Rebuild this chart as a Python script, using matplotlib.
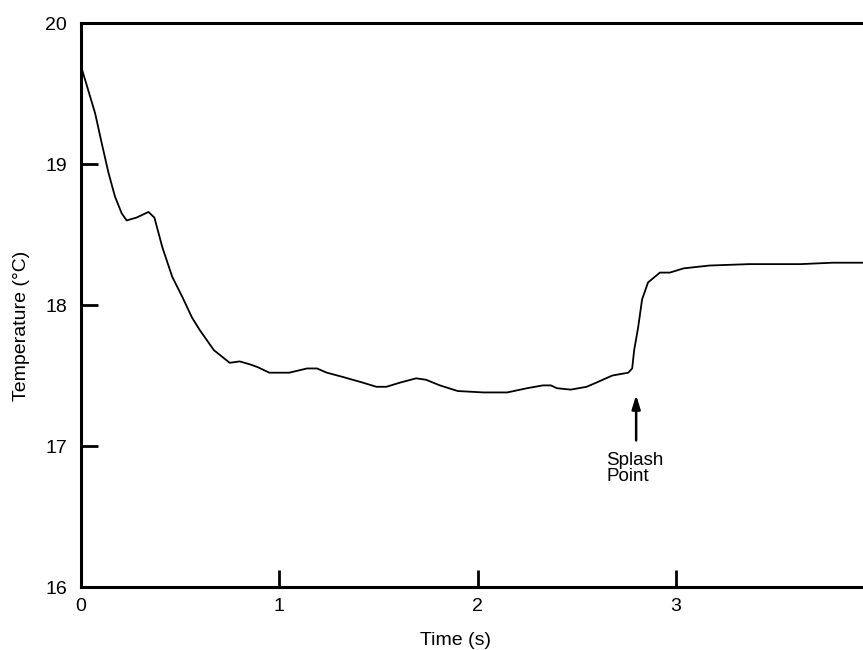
import matplotlib.pyplot as plt
import numpy as np

# values
time_s = [0.005, 0.037, 0.071, 0.104, 0.138, 0.171, 0.205, 0.23, 0.28, 0.34, 0.37, 0.41,
          0.46, 0.51, 0.56, 0.60, 0.67, 0.75, 0.80, 0.85, 0.89, 0.95, 1.05, 1.14, 1.19,
          1.24, 1.32, 1.42, 1.49, 1.54, 1.61, 1.69, 1.74, 1.81, 1.90, 2.03, 2.15, 2.25,
          2.33, 2.37, 2.40, 2.47, 2.55, 2.60, 2.68, 2.76, 2.78, 2.79, 2.81, 2.83, 2.86,
          2.92, 2.97, 3.04, 3.17, 3.37, 3.63, 3.79, 3.96, 4.0]
temp_c = [19.67, 19.52, 19.36, 19.15, 18.94, 18.77, 18.65, 18.60, 18.62, 18.66, 18.62, 18.41,
          18.20, 18.06, 17.91, 17.82, 17.68, 17.59, 17.60, 17.58, 17.56, 17.52, 17.52, 17.55, 17.55,
          17.52, 17.49, 17.45, 17.42, 17.42, 17.45, 17.48, 17.47, 17.43, 17.39, 17.38, 17.38, 17.41,
          17.43, 17.43, 17.41, 17.40, 17.42, 17.45, 17.50, 17.52, 17.55, 17.68, 17.84, 18.04, 18.16,
          18.23, 18.23, 18.26, 18.28, 18.29, 18.29, 18.30, 18.30, 18.30]

x_ticks = [0, 1, 2, 3, 4]
y_ticks = [16, 17, 18, 19, 20]

splash_t = 2.80
splash_temp = 17.38

plt.rcParams['font.family'] = ['Liberation Sans', 'DejaVu Sans']

fig = plt.figure(figsize=(8.63, 6.5), dpi=100)
# right edge of the axes runs past the figure, as in the cropped scan
ax = fig.add_axes([0.0939, 0.0969, 0.9189, 0.8677])

ax.plot(time_s, temp_c, color="k", lw=1.3, solid_joinstyle="round")

ax.set_xlim(0, 4)
ax.set_ylim(16, 20)
ax.set_xticks(x_ticks)
ax.set_yticks(y_ticks)
ax.tick_params(direction="in", length=12, width=2, labelsize=14)
ax.tick_params(axis="y", pad=10)
ax.tick_params(axis="x", pad=8)
for s in ax.spines.values():
    s.set_linewidth(2.2)

ax.set_xlabel("Time (s)", fontsize=14)
ax.xaxis.set_label_coords(0.472, -0.080)
ax.set_ylabel("Temperature (°C)", fontsize=14)
ax.yaxis.set_label_coords(-0.064, 0.463)

# splash point marker
ax.annotate("", xy=(splash_t, splash_temp), xytext=(splash_t, splash_temp - 0.36),
            arrowprops=dict(arrowstyle="-|>,head_length=0.8,head_width=0.25", color="k", lw=1.8))
ax.text(splash_t - 0.15, splash_temp - 0.42, "Splash\nPoint", fontsize=13.5,
        ha="left", va="top", linespacing=0.95)

plt.savefig("out.png", dpi=100)
